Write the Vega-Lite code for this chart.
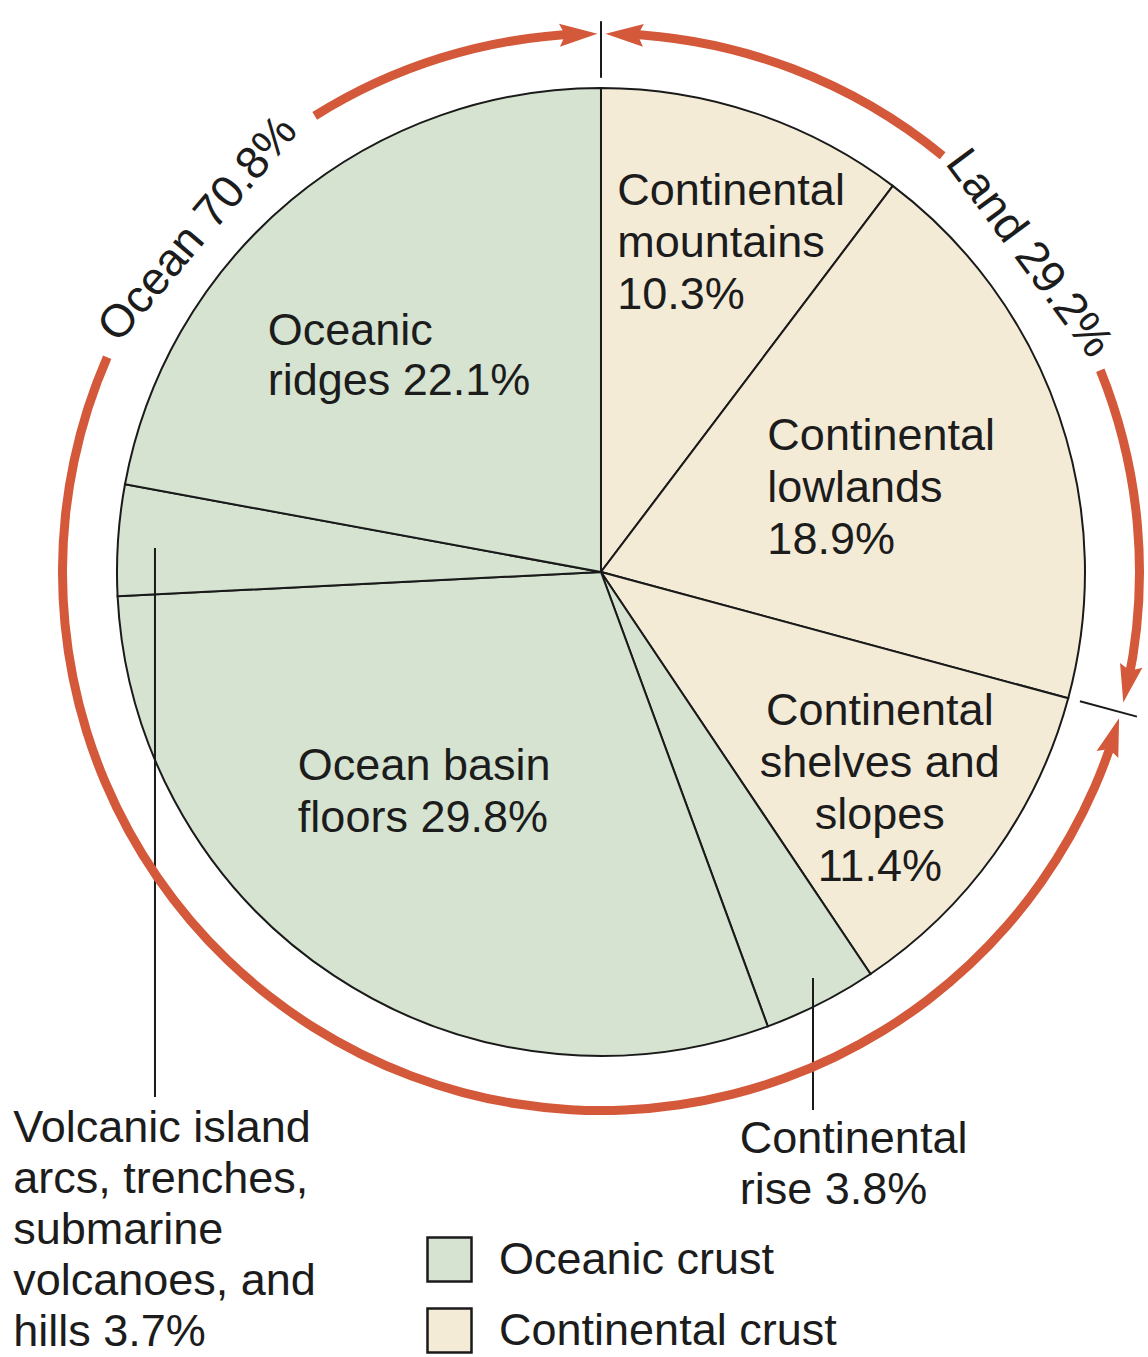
{
  "$schema": "https://vega.github.io/schema/vega-lite/v6.json",
  "width": 1148,
  "height": 1357,
  "autosize": {"type": "none"},
  "padding": 0,
  "background": "white",
  "config": {"view": {"stroke": null}},
  "data": {
    "values": [
      {"idx": 1, "key": "mountains", "crust": "Continental crust", "pct": 10.3, "label": "Continental\nmountains\n10.3%"},
      {"idx": 2, "key": "lowlands", "crust": "Continental crust", "pct": 18.9, "label": "Continental\nlowlands\n18.9%"},
      {"idx": 3, "key": "shelves", "crust": "Continental crust", "pct": 11.4, "label": "Continental\nshelves and\nslopes\n11.4%"},
      {"idx": 4, "key": "rise", "crust": "Oceanic crust", "pct": 3.8, "label": "Continental\nrise 3.8%"},
      {"idx": 5, "key": "basin", "crust": "Oceanic crust", "pct": 29.8, "label": "Ocean basin\nfloors 29.8%"},
      {"idx": 6, "key": "volcanic", "crust": "Oceanic crust", "pct": 3.7, "label": "Volcanic island\narcs, trenches,\nsubmarine\nvolcanoes, and\nhills 3.7%"},
      {"idx": 7, "key": "ridges", "crust": "Oceanic crust", "pct": 22.1, "label": "Oceanic\nridges 22.1%"}
    ]
  },
  "layer": [
    {
      "mark": {"type": "arc", "outerRadius": 484, "stroke": "#1a1a1a", "strokeWidth": 2},
      "encoding": {
        "x": {"datum": 0, "type": "quantitative", "scale": {"domain": [-124.17, 113.02], "nice": false, "zero": false}, "axis": null},
        "y": {"datum": 0, "type": "quantitative", "scale": {"domain": [-162.19, 118.18], "nice": false, "zero": false}, "axis": null},
        "theta": {"field": "pct", "type": "quantitative", "stack": true, "scale": {"domain": [0, 100]}},
        "order": {"field": "idx", "type": "quantitative", "sort": "ascending"},
        "fill": {
          "field": "crust", "type": "nominal",
          "scale": {"domain": ["Oceanic crust", "Continental crust"], "range": ["#d5e3d0", "#f4ebd7"]},
          "legend": {
            "title": null, "orient": "none", "legendX": 426, "legendY": 1236,
            "symbolType": "square", "symbolSize": 1936, "symbolStrokeColor": "#1a1a1a", "symbolStrokeWidth": 2.5,
            "symbolOpacity": 1, "labelFont": "Liberation Sans", "labelFontSize": 45, "labelColor": "#1c1c1c",
            "labelOffset": 26, "rowPadding": 16, "padding": 0, "labelLimit": 600
          }
        }
      }
    },
    {
      "mark": {"type": "text", "radius": 353, "dx": -96, "dy": -32, "align": "left", "baseline": "alphabetic", "lineBreak": "\n", "lineHeight": 52, "font": "Liberation Sans", "fontSize": 45, "fill": "#1c1c1c"},
      "encoding": {
        "x": {"datum": 0, "type": "quantitative"}, "y": {"datum": 0, "type": "quantitative"},
        "theta": {"field": "pct", "type": "quantitative", "stack": true},
        "order": {"field": "idx", "type": "quantitative", "sort": "ascending"},
        "text": {"condition": {"test": "datum.key === 'mountains'", "field": "label", "type": "nominal"}, "value": ""}
      }
    },
    {
      "mark": {"type": "text", "radius": 197, "dx": -20, "dy": -58, "align": "left", "baseline": "alphabetic", "lineBreak": "\n", "lineHeight": 52, "font": "Liberation Sans", "fontSize": 45, "fill": "#1c1c1c"},
      "encoding": {
        "x": {"datum": 0, "type": "quantitative"}, "y": {"datum": 0, "type": "quantitative"},
        "theta": {"field": "pct", "type": "quantitative", "stack": true},
        "order": {"field": "idx", "type": "quantitative", "sort": "ascending"},
        "text": {"condition": {"test": "datum.key === 'lowlands'", "field": "label", "type": "nominal"}, "value": ""}
      }
    },
    {
      "mark": {"type": "text", "radius": 316, "dx": 22, "dy": -31, "align": "center", "baseline": "alphabetic", "lineBreak": "\n", "lineHeight": 52, "font": "Liberation Sans", "fontSize": 45, "fill": "#1c1c1c"},
      "encoding": {
        "x": {"datum": 0, "type": "quantitative"}, "y": {"datum": 0, "type": "quantitative"},
        "theta": {"field": "pct", "type": "quantitative", "stack": true},
        "order": {"field": "idx", "type": "quantitative", "sort": "ascending"},
        "text": {"condition": {"test": "datum.key === 'shelves'", "field": "label", "type": "nominal"}, "value": ""}
      }
    },
    {
      "mark": {"type": "text", "radius": 341, "dx": -115, "dy": -76, "align": "left", "baseline": "alphabetic", "lineBreak": "\n", "lineHeight": 52, "font": "Liberation Sans", "fontSize": 45, "fill": "#1c1c1c"},
      "encoding": {
        "x": {"datum": 0, "type": "quantitative"}, "y": {"datum": 0, "type": "quantitative"},
        "theta": {"field": "pct", "type": "quantitative", "stack": true},
        "order": {"field": "idx", "type": "quantitative", "sort": "ascending"},
        "text": {"condition": {"test": "datum.key === 'basin'", "field": "label", "type": "nominal"}, "value": ""}
      }
    },
    {
      "mark": {"type": "text", "radius": 388, "dx": -85, "dy": 71, "align": "left", "baseline": "alphabetic", "lineBreak": "\n", "lineHeight": 50, "font": "Liberation Sans", "fontSize": 45, "fill": "#1c1c1c"},
      "encoding": {
        "x": {"datum": 0, "type": "quantitative"}, "y": {"datum": 0, "type": "quantitative"},
        "theta": {"field": "pct", "type": "quantitative", "stack": true},
        "order": {"field": "idx", "type": "quantitative", "sort": "ascending"},
        "text": {"condition": {"test": "datum.key === 'ridges'", "field": "label", "type": "nominal"}, "value": ""}
      }
    },
    {
      "mark": {"type": "text", "radius": 581, "dx": -125, "dy": 63, "align": "left", "baseline": "alphabetic", "lineBreak": "\n", "lineHeight": 51, "font": "Liberation Sans", "fontSize": 45, "fill": "#1c1c1c"},
      "encoding": {
        "x": {"datum": 0, "type": "quantitative"}, "y": {"datum": 0, "type": "quantitative"},
        "theta": {"field": "pct", "type": "quantitative", "stack": true},
        "order": {"field": "idx", "type": "quantitative", "sort": "ascending"},
        "text": {"condition": {"test": "datum.key === 'rise'", "field": "label", "type": "nominal"}, "value": ""}
      }
    },
    {
      "mark": {"type": "text", "radius": 549, "dx": -40, "dy": 606, "align": "left", "baseline": "alphabetic", "lineBreak": "\n", "lineHeight": 51, "font": "Liberation Sans", "fontSize": 45, "fill": "#1c1c1c"},
      "encoding": {
        "x": {"datum": 0, "type": "quantitative"}, "y": {"datum": 0, "type": "quantitative"},
        "theta": {"field": "pct", "type": "quantitative", "stack": true},
        "order": {"field": "idx", "type": "quantitative", "sort": "ascending"},
        "text": {"condition": {"test": "datum.key === 'volcanic'", "field": "label", "type": "nominal"}, "value": ""}
      }
    },
    {
      "data": {"values": [{}]},
      "mark": {"type": "rule", "color": "#1a1a1a", "strokeWidth": 2},
      "encoding": {"x": {"datum": 43.8, "type": "quantitative"}, "y": {"datum": -83.88, "type": "quantitative"}, "y2": {"datum": -111.16}}
    },
    {
      "data": {"values": [{}]},
      "mark": {"type": "rule", "color": "#1a1a1a", "strokeWidth": 2},
      "encoding": {"x": {"datum": -92.15, "type": "quantitative"}, "y": {"datum": 4.96, "type": "quantitative"}, "y2": {"datum": -108.47}}
    },
    {
      "data": {"values": [{}]},
      "mark": {"type": "arc", "innerRadius": 534, "outerRadius": 543, "fill": "#d4583a"},
      "encoding": {"x": {"datum": 0, "type": "quantitative"}, "y": {"datum": 0, "type": "quantitative"}, "theta": {"datum": 0.69, "type": "quantitative"}, "theta2": {"datum": 10.94}}
    },
    {
      "data": {"values": [{}]},
      "mark": {"type": "arc", "innerRadius": 534, "outerRadius": 543, "fill": "#d4583a"},
      "encoding": {"x": {"datum": 0, "type": "quantitative"}, "y": {"datum": 0, "type": "quantitative"}, "theta": {"datum": 18.89, "type": "quantitative"}, "theta2": {"datum": 28.33}}
    },
    {
      "data": {"values": [{}]},
      "mark": {"type": "arc", "innerRadius": 534, "outerRadius": 543, "fill": "#d4583a"},
      "encoding": {"x": {"datum": 0, "type": "quantitative"}, "y": {"datum": 0, "type": "quantitative"}, "theta": {"datum": 29.94, "type": "quantitative"}, "theta2": {"datum": 81.53}}
    },
    {
      "data": {"values": [{}]},
      "mark": {"type": "arc", "innerRadius": 534, "outerRadius": 543, "fill": "#d4583a"},
      "encoding": {"x": {"datum": 0, "type": "quantitative"}, "y": {"datum": 0, "type": "quantitative"}, "theta": {"datum": 91.08, "type": "quantitative"}, "theta2": {"datum": 99.33}}
    },
    {
      "data": {"values": [{}]},
      "mark": {"type": "point", "shape": "M1,0L-1,-0.6L-0.7,0L-1,0.6Z", "size": 1444, "filled": true, "color": "#d4583a", "opacity": 1, "strokeWidth": 0, "angle": -2.4},
      "encoding": {"x": {"datum": -4.655, "type": "quantitative"}, "y": {"datum": 111.06, "type": "quantitative"}}
    },
    {
      "data": {"values": [{}]},
      "mark": {"type": "point", "shape": "M1,0L-1,-0.6L-0.7,0L-1,0.6Z", "size": 1444, "filled": true, "color": "#d4583a", "opacity": 1, "strokeWidth": 0, "angle": 182.5},
      "encoding": {"x": {"datum": 4.849, "type": "quantitative"}, "y": {"datum": 111.05, "type": "quantitative"}}
    },
    {
      "data": {"values": [{}]},
      "mark": {"type": "point", "shape": "M1,0L-1,-0.6L-0.7,0L-1,0.6Z", "size": 1444, "filled": true, "color": "#d4583a", "opacity": 1, "strokeWidth": 0, "angle": 102},
      "encoding": {"x": {"datum": 108.73, "type": "quantitative"}, "y": {"datum": -23.11, "type": "quantitative"}}
    },
    {
      "data": {"values": [{}]},
      "mark": {"type": "point", "shape": "M1,0L-1,-0.6L-0.7,0L-1,0.6Z", "size": 1444, "filled": true, "color": "#d4583a", "opacity": 1, "strokeWidth": 0, "angle": 287.8},
      "encoding": {"x": {"datum": 105.84, "type": "quantitative"}, "y": {"datum": -33.98, "type": "quantitative"}}
    },
    {
      "data": {"values": [{}]},
      "mark": {"type": "rule", "color": "#1a1a1a", "strokeWidth": 2},
      "encoding": {"x": {"datum": 0, "type": "quantitative"}, "y": {"datum": 102.1, "type": "quantitative"}, "y2": {"datum": 113.8}}
    },
    {
      "data": {"values": [{}]},
      "mark": {"type": "rule", "color": "#1a1a1a", "strokeWidth": 2},
      "encoding": {"x": {"datum": 98.96, "type": "quantitative"}, "x2": {"datum": 110.74}, "y": {"datum": -26.7, "type": "quantitative"}, "y2": {"datum": -29.88}}
    },
    {
      "data": {"values": [{}]},
      "mark": {"type": "text", "text": "Ocean 70.8%", "angle": -49.6, "align": "center", "baseline": "middle", "font": "Liberation Sans", "fontSize": 46, "fill": "#1c1c1c"},
      "encoding": {"x": {"datum": -83.26, "type": "quantitative"}, "y": {"datum": 70.87, "type": "quantitative"}}
    },
    {
      "data": {"values": [{}]},
      "mark": {"type": "text", "text": "Land 29.2%", "angle": 53.4, "align": "center", "baseline": "middle", "font": "Liberation Sans", "fontSize": 46, "fill": "#1c1c1c"},
      "encoding": {"x": {"datum": 88.43, "type": "quantitative"}, "y": {"datum": 65.81, "type": "quantitative"}}
    }
  ]
}
